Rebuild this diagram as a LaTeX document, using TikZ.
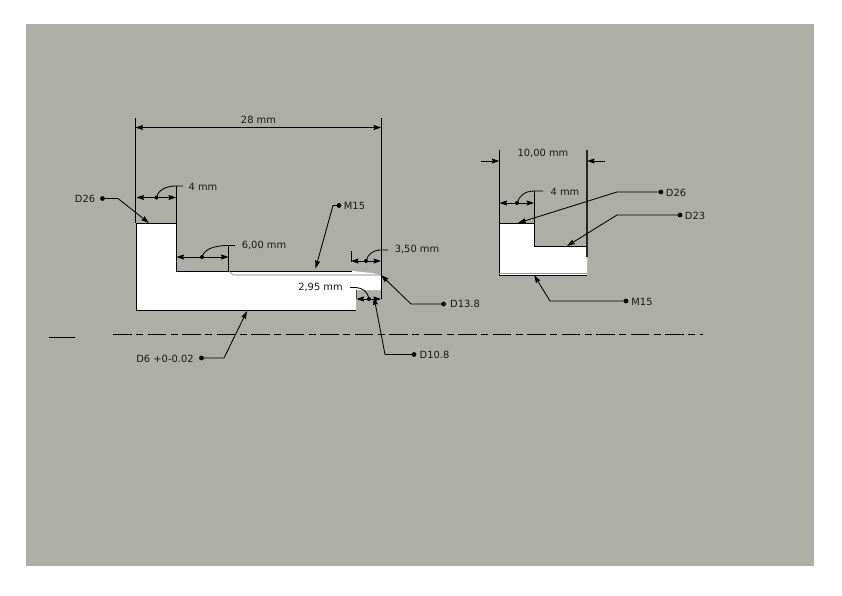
\documentclass[tikz,border=0pt]{standalone}
\usepackage{fontspec}
\setmainfont{DejaVu Sans}
\usetikzlibrary{arrows.meta}
\definecolor{bg}{HTML}{ADAEA5}
\tikzset{
  lab/.style={inner sep=0pt,font=\fontsize{9.9}{12}\selectfont,text=black!90},
  dotn/.style={circle,fill=black,inner sep=0pt,minimum size=4.8pt},
  smalldot/.style={circle,fill=black,inner sep=0pt,minimum size=4pt},
  lead/.style={line width=0.85pt,-{Stealth[length=8pt,width=5pt,inset=1pt]}},
  dimline/.style={line width=0.85pt,{Stealth[length=7.5pt,width=5pt,inset=1pt]}-{Stealth[length=7.5pt,width=5pt,inset=1pt]}},
  arrowone/.style={line width=0.85pt,-{Stealth[length=7.5pt,width=5pt,inset=1pt]}},
  ext/.style={line width=0.85pt},
  curveline/.style={line width=0.85pt},
  part/.style={fill=white,draw=none},
  edge/.style={line width=0.9pt},
}
\begin{document}
\begin{tikzpicture}[x=1pt,y=-1pt]
\useasboundingbox (0,0) rectangle (842,595);
\fill[bg] (26,24) rectangle (814,566);

% left part
\fill[part] (136,223) -- (176,223) -- (176,271) -- (352,271) -- (372,273) -- (381,275) -- (381,290) -- (356,290) -- (356,310.5) -- (136,310.5) -- cycle;
\draw[edge] (136,310.5) -- (136,223) -- (176,223) -- (176,271) -- (352,271);
\draw[edge] (136,310.5) -- (356,310.5);
\draw[line width=0.6pt,black!55] (229,271) -- (233,275) -- (381,275);
\draw[line width=0.7pt,black!70] (356,290) -- (356,299);

% right part
\fill[part] (499,223) -- (534,223) -- (534,246) -- (587,246) -- (587,275) -- (499,275) -- cycle;
\draw[edge] (499,275) -- (499,223) -- (534,223) -- (534,246) -- (587,246);
\draw[edge] (499,275) -- (587,275);
\draw[line width=0.5pt,black!40] (499,273.4) -- (587,273.4);

% centre line
\coordinate (cl1) at (113,334); \coordinate (cl2) at (703,334);
\draw[line width=0.7pt,dash pattern=on 18.5pt off 4.5pt on 7pt off 4.5pt] (cl1) -- (cl2);
\coordinate (sl1) at (49,337.5); \coordinate (sl2) at (75,337.5);
\draw[line width=0.7pt] (sl1) -- (sl2);

% 28 mm
\coordinate (a1) at (135.5,127.5); \coordinate (a2) at (381,127.5);
\draw[ext] (135.5,118) -- (135.5,223);
\draw[ext] (381,118) -- (381,299);
\draw[dimline] (a1) -- (a2);
\node[lab] (t28) at (258.5,119.5) {28 mm};

% 4 mm left
\coordinate (b1) at (136.5,197.5); \coordinate (b2) at (176,197.5);
\draw[ext] (176,185.5) -- (176,223);
\node[smalldot] (bd) at (156.5,197.5) {};
\draw[dimline] (b1) -- (b2);
\node[lab] (t4a) at (203,186.5) {4 mm};
\draw[curveline] (bd.center) .. controls (158,190) and (166,186) .. (176,186) -- (183,186);

% D26 left
\node[lab] (tD26a) at (85,198.5) {D26};
\node[dotn] (dD26a) at (102.5,198.5) {};
\coordinate (kD26a) at (118,198.5); \coordinate (eD26a) at (149,223);
\draw[lead] (dD26a.center) -- (kD26a) -- (eD26a);

% 6,00 mm
\coordinate (c1) at (176.5,257); \coordinate (c2) at (228.5,257);
\draw[ext] (228.5,245) -- (228.5,271);
\node[smalldot] (cd) at (202,257) {};
\draw[dimline] (c1) -- (c2);
\node[lab] (t6) at (264,245.5) {6,00 mm};
\draw[curveline] (cd.center) .. controls (204,250) and (212,245.5) .. (228.5,245.5) -- (235,245.5);

% M15 left
\node[lab] (tM15a) at (354.5,205.5) {M15};
\node[dotn] (dM15a) at (339,205.5) {};
\coordinate (kM15a) at (333,205.5); \coordinate (eM15a) at (315.5,268.5);
\draw[lead] (dM15a.center) -- (kM15a) -- (eM15a);

% 3,50 mm
\coordinate (e1) at (351,261); \coordinate (e2) at (381,261);
\draw[ext] (351,251) -- (351,262);
\node[smalldot] (ed) at (366,261) {};
\draw[dimline] (e1) -- (e2);
\node[lab] (t35) at (417,249.5) {3,50 mm};
\draw[curveline] (ed.center) .. controls (368,254) and (373,250) .. (381,250) -- (388,250);

% D13.8
\node[lab] (tD138) at (465,304) {D13.8};
\node[dotn] (dD138) at (443.5,304) {};
\coordinate (kD138) at (411,304); \coordinate (eD138) at (381,275);
\draw[lead] (dD138.center) -- (kD138) -- (eD138);

% 2,95 mm
\coordinate (f1) at (356.5,299); \coordinate (f2) at (381,299);
\node[smalldot] (fd) at (369,299) {};
\draw[dimline] (f1) -- (f2);
\node[lab] (t295) at (320.5,287.5) {2,95 mm};
\draw[curveline] (350,287.5) -- (356,287.5) .. controls (363,288) and (368,292) .. (fd.center);

% D10.8
\node[lab] (tD108) at (434.5,354.5) {D10.8};
\node[dotn] (dD108) at (414,354.5) {};
\coordinate (kD108) at (385,354.5); \coordinate (eD108) at (374,297);
\draw[lead] (dD108.center) -- (kD108) -- (eD108);

% D6
\node[lab] (tD6) at (165,358.5) {D6 +0-0.02};
\node[dotn] (dD6) at (201.5,358) {};
\coordinate (kD6) at (224,358); \coordinate (eD6) at (247,311);
\draw[lead] (dD6.center) -- (kD6) -- (eD6);

% 10,00 mm
\coordinate (g0) at (481,161); \coordinate (g1) at (499.3,161);
\coordinate (g3) at (605,161); \coordinate (g2) at (587,161);
\draw[ext] (499.3,150) -- (499.3,223);
\draw[line width=1.1pt,black!85] (587,150) -- (587,257);
\draw[arrowone] (g0) -- (g1);
\draw[arrowone] (g3) -- (g2);
\node[lab] (t10) at (543,153) {10,00 mm};

% 4 mm right
\coordinate (h1) at (499.5,203); \coordinate (h2) at (534,203);
\draw[ext] (534,191) -- (534,246);
\node[smalldot] (hd) at (517,203) {};
\draw[dimline] (h1) -- (h2);
\node[lab] (t4b) at (565,191.5) {4 mm};
\draw[curveline] (hd.center) .. controls (519,196) and (525,191) .. (534,191) -- (543,191);

% D26 right
\node[lab] (tD26b) at (676,192.5) {D26};
\node[dotn] (dD26b) at (661,192) {};
\coordinate (kD26b) at (617,192); \coordinate (eD26b) at (518,223);
\draw[lead] (dD26b.center) -- (kD26b) -- (eD26b);

% D23
\node[lab] (tD23) at (695,215.5) {D23};
\node[dotn] (dD23) at (680,215) {};
\coordinate (kD23) at (617,215); \coordinate (eD23) at (567,246);
\draw[lead] (dD23.center) -- (kD23) -- (eD23);

% M15 right
\node[lab] (tM15b) at (642,301.5) {M15};
\node[dotn] (dM15b) at (626,301) {};
\coordinate (kM15b) at (550,301); \coordinate (eM15b) at (534,275);
\draw[lead] (dM15b.center) -- (kM15b) -- (eM15b);
\end{tikzpicture}
\end{document}
